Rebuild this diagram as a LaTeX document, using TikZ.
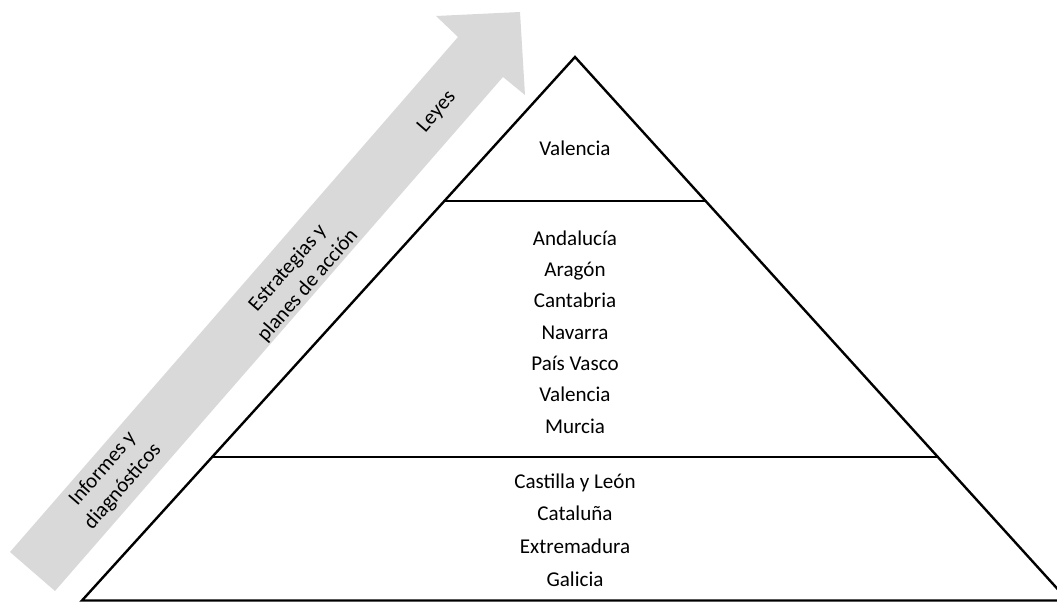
\documentclass[tikz,border=0pt]{standalone}
\usepackage{fontspec}
\setmainfont{Carlito}
\usetikzlibrary{calc}

\definecolor{arrowgray}{HTML}{D9D9D9}

\tikzset{
  tierline/.style={line width=1.8pt,black},
  tiertext/.style={align=center,inner sep=0pt,font=\fontsize{15.8}{23.5}\selectfont},
  steptext/.style={align=center,inner sep=0pt,rotate=49,font=\fontsize{15.8}{20}\selectfont}
}

\begin{document}
\begin{tikzpicture}[x=0.75pt,y=-0.75pt]
  \useasboundingbox (0,0) rectangle (1057,602);
  % grey arrow
  \fill[arrowgray] (10,552) -- (458,37) -- (436,16) -- (520,12)
    -- (525,95) -- (503,77) -- (55,591) -- cycle;
  \node[steptext] (leyes) at (437,112) {Leyes};
  \node[steptext] (estrat) at (298,277) {Estrategias y\\planes de acción};
  \node[steptext] (inform) at (113,478) {Informes y\\diagnósticos};
  % pyramid
  \coordinate (apex) at (575,57);
  \coordinate (bl) at (82,600.5);
  \coordinate (br) at (1068,600.5);
  \coordinate (l1) at ($(apex)!0.2650!(bl)$);
  \coordinate (r1) at ($(apex)!0.2650!(br)$);
  \coordinate (l2) at ($(apex)!0.7360!(bl)$);
  \coordinate (r2) at ($(apex)!0.7360!(br)$);
  \draw[tierline,line join=miter] (bl) -- (apex) -- (br) -- cycle;
  \draw[tierline] (l1) -- (r1);
  \draw[tierline] (l2) -- (r2);
  % tiers
  \node[tiertext] (top) at (575,148) {Valencia};
  \node[tiertext] (mid) at (575,332) {Andalucía\\Aragón\\Cantabria\\Navarra\\País Vasco\\Valencia\\Murcia};
  \node[tiertext,font=\fontsize{15.8}{24.5}\selectfont] (low) at (575,530) {Castilla y León\\Cataluña\\Extremadura\\Galicia};
\end{tikzpicture}
\end{document}
